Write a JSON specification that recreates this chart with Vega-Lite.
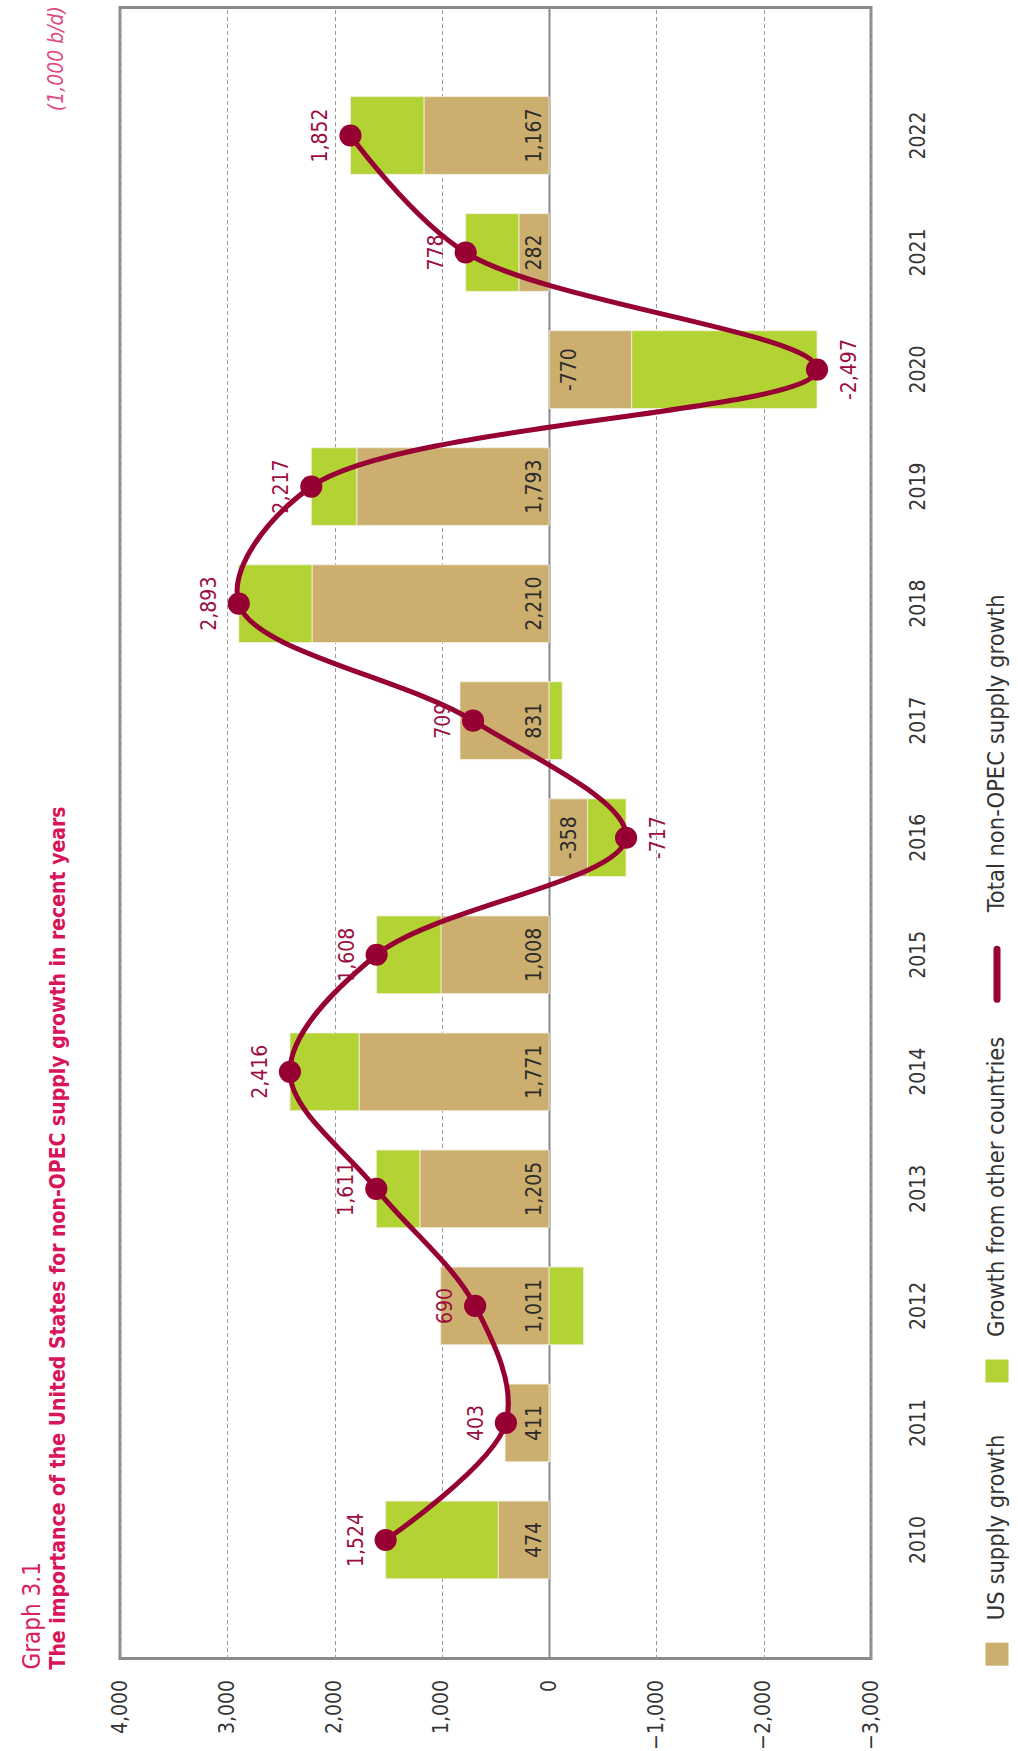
{
  "$schema": "https://vega.github.io/schema/vega-lite/v6.json",
  "background": "white",
  "padding": {"left": 19, "top": 5.5, "right": 0, "bottom": 0},
  "title": {
    "text": "(1,000 b/d)",
    "orient": "left",
    "anchor": "end",
    "offset": -47,
    "font": "DejaVu Sans Condensed, sans-serif",
    "fontSize": 21,
    "fontStyle": "italic",
    "fontWeight": "normal",
    "color": "#E14A7E"
  },
  "spacing": 53,
  "hconcat": [
    {
      "width": 751,
      "height": 1651,
      "view": {"stroke": "#8a8a8a", "strokeWidth": 3},
      "title": {
        "text": "Graph 3.1",
        "subtitle": "The importance of the United States for non-OPEC supply growth in recent years",
        "orient": "left",
        "anchor": "start",
        "frame": "group",
        "offset": 40,
        "dx": -11,
        "font": "DejaVu Sans Condensed, sans-serif",
        "fontSize": 24,
        "fontWeight": "normal",
        "color": "#DA1E5E",
        "subtitleFont": "DejaVu Sans Condensed, sans-serif",
        "subtitleFontSize": 21,
        "subtitleFontWeight": "bold",
        "subtitleColor": "#D8145A",
        "subtitlePadding": 3
      },
      "data": {
        "values": [
          {"year": "2010", "us": 474, "other": 1050, "total": 1524},
          {"year": "2011", "us": 411, "other": -8, "total": 403},
          {"year": "2012", "us": 1011, "other": -321, "total": 690},
          {"year": "2013", "us": 1205, "other": 406, "total": 1611},
          {"year": "2014", "us": 1771, "other": 645, "total": 2416},
          {"year": "2015", "us": 1008, "other": 600, "total": 1608},
          {"year": "2016", "us": -358, "other": -359, "total": -717},
          {"year": "2017", "us": 831, "other": -122, "total": 709},
          {"year": "2018", "us": 2210, "other": 683, "total": 2893},
          {"year": "2019", "us": 1793, "other": 424, "total": 2217},
          {"year": "2020", "us": -770, "other": -1727, "total": -2497},
          {"year": "2021", "us": 282, "other": 496, "total": 778},
          {"year": "2022", "us": 1167, "other": 685, "total": 1852}
        ]
      },
      "encoding": {
        "y": {
          "field": "year",
          "type": "ordinal",
          "sort": "descending",
          "scale": {"paddingInner": 0.336, "paddingOuter": 0.721, "align": 0.528},
          "axis": {
            "orient": "right",
            "title": null,
            "labelAngle": 270,
            "labelAlign": "center",
            "labelBaseline": "top",
            "labelPadding": 36,
            "labelFontSize": 21,
            "labelColor": "#333333",
            "labelFont": "DejaVu Sans Condensed, sans-serif",
            "ticks": false,
            "tickSize": 0,
            "domain": false,
            "grid": false
          }
        }
      },
      "layer": [
        {
          "transform": [{"fold": ["us", "other"], "as": ["series", "value"]}],
          "mark": {"type": "bar", "stroke": "#f4f0e4", "strokeWidth": 0.8},
          "encoding": {
            "x": {
              "field": "value",
              "type": "quantitative",
              "stack": "zero",
              "scale": {"domain": [-3000, 4000], "reverse": true, "nice": false, "zero": false},
              "axis": {
                "orient": "bottom",
                "title": null,
                "values": [-3000, -2000, -1000, 0, 1000, 2000, 3000, 4000],
                "format": ",.0f",
                "labelAngle": 270,
                "labelAlign": "right",
                "labelBaseline": "middle",
                "labelPadding": 21,
                "labelFontSize": 21,
                "labelColor": "#333333",
                "labelFont": "DejaVu Sans Condensed, sans-serif",
                "labelFlush": false,
                "labelOverlap": false,
                "ticks": false,
                "domain": false,
                "grid": true,
                "gridColor": {"condition": {"test": "datum.value === 0", "value": "#888888"}, "value": "#9a9a9a"},
                "gridDash": {"condition": {"test": "datum.value === 0", "value": []}, "value": [4, 3]},
                "gridWidth": {"condition": {"test": "datum.value === 0", "value": 2}, "value": 1}
              }
            },
            "color": {
              "field": "series",
              "type": "nominal",
              "scale": {"domain": ["us", "other"], "range": ["#CCAF6E", "#B3D335"]},
              "legend": null
            },
            "order": {"field": "series", "sort": "descending"}
          }
        },
        {
          "transform": [{"filter": "datum.us >= 0"}, {"calculate": "format(datum.us, ',')", "as": "lab"}],
          "mark": {"type": "text", "angle": 270, "align": "center", "baseline": "bottom", "dy": -4.6, "fontSize": 21, "color": "#2b2b2b", "font": "DejaVu Sans Condensed, sans-serif"},
          "encoding": {
            "x": {"datum": 0, "type": "quantitative"},
            "text": {"field": "lab", "type": "nominal"}
          }
        },
        {
          "transform": [{"filter": "datum.us < 0"}, {"calculate": "'-' + format(-datum.us, ',')", "as": "lab"}],
          "mark": {"type": "text", "angle": 270, "align": "center", "baseline": "top", "dy": 9.7, "fontSize": 21, "color": "#2b2b2b", "font": "DejaVu Sans Condensed, sans-serif"},
          "encoding": {
            "x": {"datum": 0, "type": "quantitative"},
            "text": {"field": "lab", "type": "nominal"}
          }
        },
        {
          "mark": {"type": "line", "interpolate": "catmull-rom", "color": "#960032", "strokeWidth": 5},
          "encoding": {
            "x": {"field": "total", "type": "quantitative", "title": null},
            "order": {"field": "year", "type": "ordinal"}
          }
        },
        {
          "mark": {"type": "circle", "size": 490, "color": "#960032", "opacity": 1},
          "encoding": {
            "x": {"field": "total", "type": "quantitative", "title": null}
          }
        },
        {
          "transform": [{"filter": "datum.total >= 0"}, {"calculate": "format(datum.total, ',')", "as": "tlab"}],
          "mark": {"type": "text", "angle": 270, "align": "center", "baseline": "bottom", "dy": -19, "fontSize": 21, "color": "#9B0D3F", "font": "DejaVu Sans Condensed, sans-serif"},
          "encoding": {
            "x": {"field": "total", "type": "quantitative", "title": null},
            "text": {"field": "tlab", "type": "nominal"}
          }
        },
        {
          "transform": [{"filter": "datum.total < 0"}, {"calculate": "'-' + format(-datum.total, ',')", "as": "tlab"}],
          "mark": {"type": "text", "angle": 270, "align": "center", "baseline": "top", "dy": 22, "fontSize": 21, "color": "#9B0D3F", "font": "DejaVu Sans Condensed, sans-serif"},
          "encoding": {
            "x": {"field": "total", "type": "quantitative", "title": null},
            "text": {"field": "tlab", "type": "nominal"}
          }
        }
      ]
    },
    {
      "width": 24,
      "height": 1651,
      "view": {"stroke": null},
      "data": {
        "values": [
          {"kind": "us", "item": "US supply growth"},
          {"kind": "other", "item": "Growth from other countries"},
          {"kind": "total", "item": "Total non-OPEC supply growth"}
        ]
      },
      "encoding": {
        "y": {
          "field": "kind",
          "type": "nominal",
          "scale": {"type": "point", "domain": ["d0", "d1", "d2", "d3", "d4", "d5", "total", "g1", "g2", "other", "g3", "us"], "padding": 0.33, "align": 0.59},
          "axis": null
        }
      },
      "layer": [
        {
          "transform": [{"filter": "datum.kind === 'us'"}],
          "mark": {"type": "point", "shape": "square", "filled": true, "size": 529, "yOffset": 34, "color": "#CCAF6E", "opacity": 1}
        },
        {
          "transform": [{"filter": "datum.kind === 'other'"}],
          "mark": {"type": "point", "shape": "square", "filled": true, "size": 529, "yOffset": 34, "color": "#B3D335", "opacity": 1}
        },
        {
          "transform": [{"filter": "datum.kind === 'total'"}],
          "mark": {"type": "point", "shape": "M0,-1L0,1", "size": 2500, "filled": false, "stroke": "#960032", "strokeWidth": 7, "strokeCap": "round", "yOffset": 62, "opacity": 1}
        },
        {
          "mark": {"type": "text", "angle": 270, "align": "left", "baseline": "middle", "fontSize": 23.5, "color": "#333333", "font": "DejaVu Sans Condensed, sans-serif"},
          "encoding": {"text": {"field": "item", "type": "nominal"}}
        }
      ]
    }
  ],
  "config": {
    "view": {"stroke": null},
    "font": "DejaVu Sans Condensed, sans-serif"
  }
}
